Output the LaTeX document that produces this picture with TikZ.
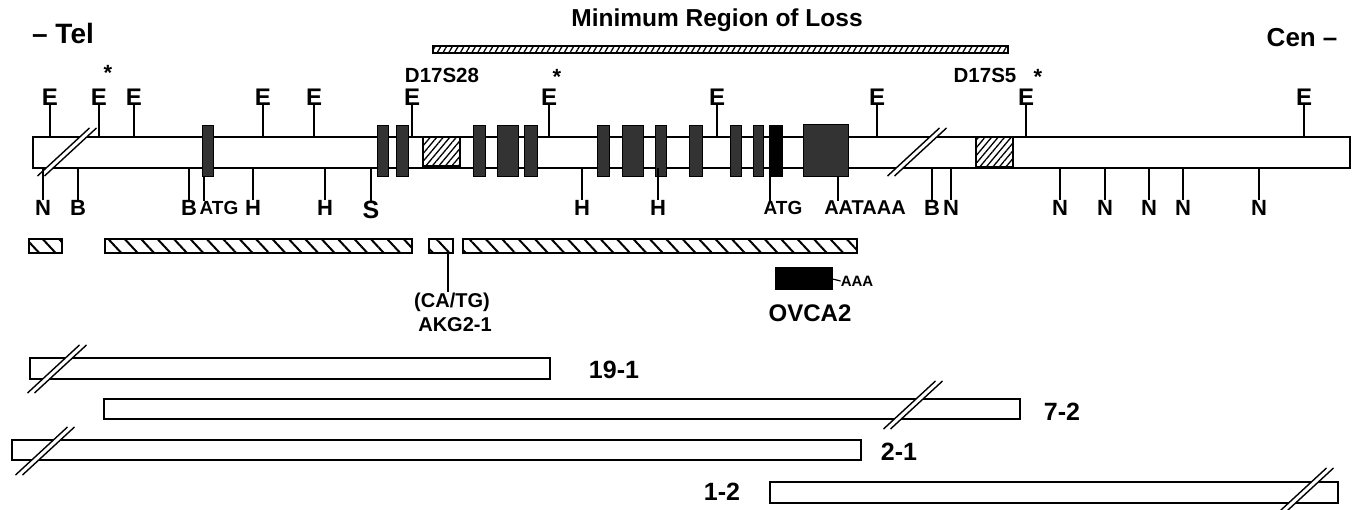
\documentclass[tikz,border=0pt]{standalone}
\usepackage{fontspec}
\setmainfont{Liberation Sans}
\usetikzlibrary{patterns.meta}
\newcommand\myfs[1]{\fontsize{#1}{#1}\selectfont\bfseries}
\begin{document}
\begin{tikzpicture}[x=1pt,y=-1pt,
  lbl/.style={inner sep=0pt,font=\myfs{24}},
  slbl/.style={inner sep=0pt,font=\myfs{20}},
  tick/.style={line width=1.3pt},
  bar/.style={draw,line width=1.6pt,fill=white},
  exon/.style={draw,line width=1pt,fill=black!80},
  hbox/.style={draw,line width=1.4pt,pattern={Lines[angle=50,distance=5pt,line width=1.3pt]}},
  mbar/.style={draw,line width=1.5pt,pattern={Lines[angle=60,distance=5pt,line width=1.3pt]}},
  hrow/.style={draw,line width=1.8pt,pattern={Lines[angle=-47,distance=12pt,line width=2pt]}},
  clone/.style={draw,line width=1.6pt,fill=white},
  brk/.pic={
    \fill[white] (-29.5,24) -- (22.5,-24) -- (29.5,-24) -- (-22.5,24) -- cycle;
    \draw[line width=1.4pt] (-29.5,24) -- (22.5,-24);
    \draw[line width=1.4pt] (-22.5,24) -- (29.5,-24);
  }]
\useasboundingbox (0,0) rectangle (1354,510);

% titles
\node[inner sep=0pt,font=\myfs{28}] (tel) at (63,33) {– Tel};
\node[inner sep=0pt,font=\myfs{26}] (cen) at (1302,38) {Cen\hspace{7pt}–};
\node[inner sep=0pt,font=\myfs{24.5}] (mrl) at (717,20) {Minimum Region of Loss};
\draw[mbar] (433,46) rectangle (1008,53);

% main bar
\draw[bar] (33,137) rectangle (1350,168);
\coordinate (bt) at (0,137);
\coordinate (bb) at (0,168);
\coordinate (eb) at (0,177);
\draw[hbox] (423,137) rectangle (460,166);
\draw[hbox] (976,137) rectangle (1013,167);
\foreach \a/\b in {202/213,377/388,396/408,473/485,497/518,524/537,597/609,622/643,655/666,689/702,730/741,753/763}
  \draw[exon] (\a,126) rectangle (\b,177);
\draw[draw,line width=1pt,fill=black] (769,126) rectangle (782,177);
\draw[exon] (803,125) rectangle (848,177);
\pic at (67,152) {brk};
\pic at (917,152) {brk};

% E sites
\foreach \x/\n in {50/e1,99/e2,134/e3,263/e4,314/e5,412/e6,549/e7,717/e8,877/e9,1026/e10,1304/e11}{
  \node[lbl] (\n) at (\x,97) {E};
  \draw[tick] (\n.south) -- (\n.south |- bt);
}
\node[inner sep=0pt,font=\myfs{22}] (s1) at (108,73) {*};
\node[inner sep=0pt,font=\myfs{22}] (s2) at (557,77) {*};
\node[inner sep=0pt,font=\myfs{22}] (s3) at (1038,77) {*};
\node[inner sep=0pt,font=\myfs{20.5}] (d28) at (442,75) {D17S28};
\node[inner sep=0pt,font=\myfs{20.5}] (d5) at (985,75) {D17S5};

% lower sites
\foreach \x/\t/\n in {43/N/n1,78/B/b1,189/B/b2,253/H/h1,325/H/h2,582/H/h3,658/H/h4,932/B/b3,951/N/n2,1060/N/n3,1105/N/n4,1149/N/n5,1183/N/n6,1259/N/n7}{
  \node[lbl,font=\myfs{22}] (\n) at (\x,208) {\t};
  \draw[tick] (\n.north) -- (\n.north |- bb);
}
\node[lbl,font=\myfs{25}] (s) at (371,210) {S};
\draw[tick] (s.north) -- (s.north |- bb);
\node[slbl,font=\myfs{19}] (atg1) at (219,208) {ATG};
\coordinate (ta) at (204,177);
\draw[tick] (ta) -- (ta |- atg1.north);
\node[slbl,font=\myfs{19}] (atg2) at (783,208) {ATG};
\coordinate (tb) at (770,177);
\draw[tick] (tb) -- (tb |- atg2.north);
\node[slbl] (aat) at (865,208) {AATAAA};
\coordinate (tc) at (838,177);
\draw[tick] (tc) -- (tc |- aat.north);

% hatched probe row
\foreach \a/\b in {29/62,105/412,463/857}
  \draw[hrow] (\a,239) rectangle (\b,253);
\draw[hrow] (429,239) rectangle (453,253);
\coordinate (ca) at (448,253);
\node[slbl] (catg) at (452,302) {(CA/TG)};
\node[slbl] (akg) at (455,325) {AKG2-1};
\draw[tick] (ca) -- (ca |- catg.north);

% OVCA2
\node[draw,fill=black,line width=1pt,minimum width=57pt,minimum height=22pt,inner sep=0pt] (ov) at (803.5,279) {};
\node[inner sep=0pt,font=\myfs{15}] (aaa) at (857,281) {AAA};
\draw[line width=1.2pt] (ov.east) -- (aaa.west);
\node[inner sep=0pt,font=\myfs{24}] (ovca) at (810,313) {OVCA2};

% clones
\draw[clone] (30,358) rectangle (550,379);
\pic at (57,369) {brk};
\node[inner sep=0pt,font=\myfs{25}] (c19) at (614,370) {19-1};

\draw[clone] (104,399) rectangle (1020,419);
\pic at (913,405) {brk};
\node[inner sep=0pt,font=\myfs{25}] (c7) at (1062,412) {7-2};

\draw[clone] (12,440) rectangle (861,460);
\pic at (45,451) {brk};
\node[inner sep=0pt,font=\myfs{25}] (c2) at (899,452) {2-1};

\draw[clone] (770,482) rectangle (1338,503);
\pic at (1304,492) {brk};
\node[inner sep=0pt,font=\myfs{25}] (c1) at (722,492) {1-2};
\end{tikzpicture}
\end{document}
